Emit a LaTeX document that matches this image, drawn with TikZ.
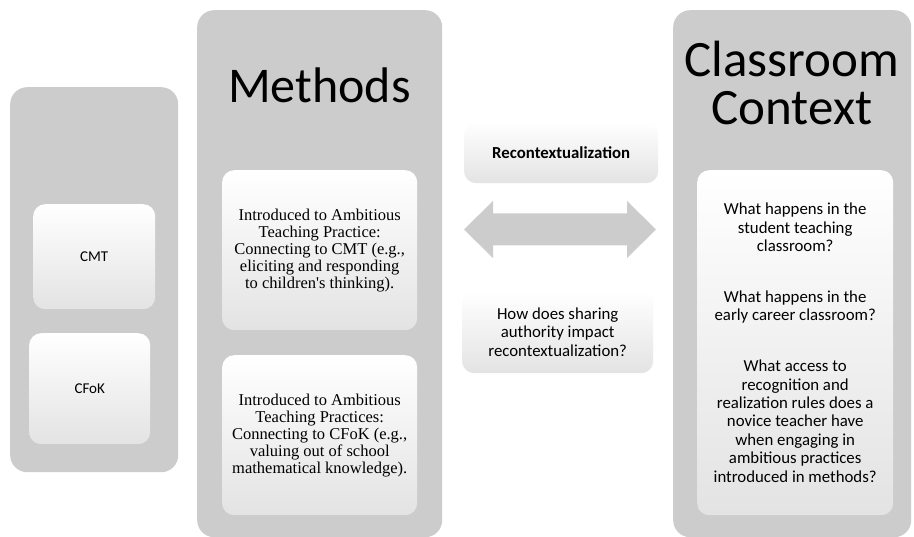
\documentclass[tikz,border=0pt]{standalone}
\usepackage{fontspec}
\setmainfont{Carlito}
\newfontfamily\seriffam{Liberation Serif}
\usetikzlibrary{calc}
\definecolor{panelgray}{HTML}{CCCCCC}
\definecolor{cardbot}{HTML}{E3E3E3}
\begin{document}
\begin{tikzpicture}[x=1pt,y=-1pt,
  panel/.style={fill=panelgray, draw=none, rounded corners=17pt, anchor=north west, inner sep=0pt},
  card/.style={top color=white, middle color=white, bottom color=cardbot, draw=none,
    rounded corners=12pt, anchor=north west, inner sep=0pt, align=center},
  bigtitle/.style={font=\fontsize{50}{48}\selectfont, anchor=base, inner sep=0pt},
  cardtext/.style={font=\fontsize{16.8}{18.4}\selectfont},
  sidetext/.style={font=\fontsize{15}{18}\selectfont},
  sertext/.style={font=\seriffam\fontsize{16.5}{17}\selectfont},
  arrowfill/.style={fill=panelgray, draw=none}
]
\useasboundingbox (0,0) rectangle (914,537);
\fill[white] (0,0) rectangle (914,537);

% left panel
\node[panel, minimum width=168pt, minimum height=385pt] (left) at (10,87) {};
\node[card, sidetext, minimum width=122pt, minimum height=105pt] (cmt) at (33,204) {CMT};
\node[card, sidetext, minimum width=121pt, minimum height=111pt] (cfok) at (29,333) {CFoK};

% methods panel
\node[panel, minimum width=245pt, minimum height=527pt] (methods) at (197,10) {};
\node[bigtitle] (mtitle) at (319.5,103) {Methods};
\node[card, sertext, minimum width=195pt, minimum height=160pt] (m1) at (222,170)
  {Introduced to Ambitious\\Teaching Practice:\\Connecting to CMT (e.g.,\\eliciting and responding\\to children's thinking).};
\node[card, sertext, minimum width=195pt, minimum height=160pt] (m2) at (222,355)
  {Introduced to Ambitious\\Teaching Practices:\\Connecting to CFoK (e.g.,\\valuing out of school\\mathematical knowledge).};

% classroom context panel
\node[panel, minimum width=238pt, minimum height=527pt] (ctx) at (673,10) {};
\node[bigtitle, font=\fontsize{51}{48}\selectfont] (ctitle1) at (792,77) {Classroom};
\node[bigtitle, font=\fontsize{51}{48}\selectfont] (ctitle2) at (792,125) {Context};
\node[card, cardtext, minimum width=196pt, minimum height=345pt] (cq) at (697,170)
  {What happens in the\\student teaching\\classroom?\\[32.5pt]What happens in the\\early career classroom?\\[32.5pt]What access to\\recognition and\\realization rules does a\\novice teacher have\\when engaging in\\ambitious practices\\introduced in methods?};

% middle
\node[card, font=\bfseries\fontsize{16.8}{18}\selectfont, minimum width=194pt, minimum height=61pt] (recon) at (464,122) {Recontextualization};
\node[card, cardtext, minimum width=191pt, minimum height=82pt] (how) at (462,291)
  {How does sharing\\authority impact\\recontextualization?};

\coordinate (aL) at (464,229.5);
\coordinate (aR) at (656,229.5);
\fill[arrowfill] (aL) -- ++(29,-28.5) -- ++(0,12.5) -- ($(aR)+(-29,-16)$) -- ++(0,-12.5)
  -- (aR) -- ++(-29,28.5) -- ++(0,-12.5) -- ($(aL)+(29,16)$) -- ++(0,12.5) -- cycle;
\end{tikzpicture}
\end{document}
